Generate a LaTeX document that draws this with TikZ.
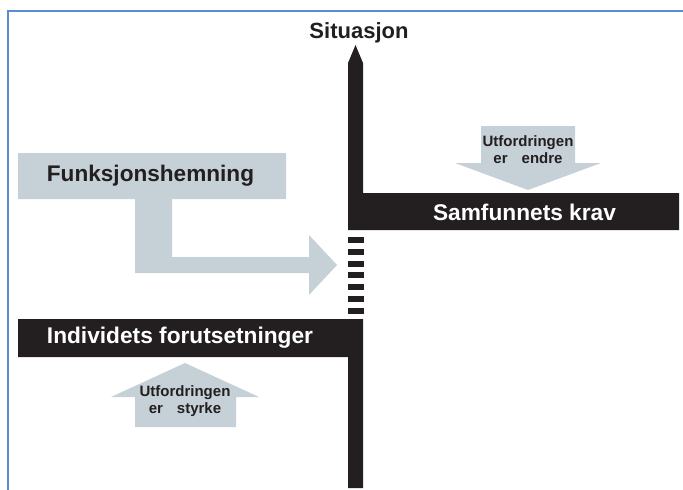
\documentclass[tikz,border=0pt]{standalone}
\usepackage{fontspec}
\setmainfont{Liberation Sans}
\definecolor{barblack}{HTML}{231F20}
\definecolor{paleblue}{HTML}{C5D0D7}
\definecolor{frameblue}{HTML}{5B8BD0}
\tikzset{
  barfill/.style={fill=barblack, draw=none},
  palefill/.style={fill=paleblue, draw=none},
  bigdark/.style={font=\fontsize{22.6}{26}\selectfont\bfseries, text=barblack, inner sep=0pt},
  bigwhite/.style={font=\fontsize{22.7}{26}\selectfont\bfseries, text=white, inner sep=0pt},
  smalltxt/.style={font=\fontsize{15}{17}\selectfont\bfseries, text=barblack, align=center, inner sep=0pt},
}
\begin{document}
\begin{tikzpicture}[x=1pt,y=-1pt]
\useasboundingbox (0,0) rectangle (683,490);
% frame
\draw[frameblue, line width=1.5pt] (683,11) -- (8,11) -- (8,490);
% vertical bar with arrow tip and Samfunnets krav bar
\fill[barblack] (348,230) -- (348,63) -- (355.5,45) -- (363,63) -- (363,193) -- (679,193) -- (679,230) -- cycle;
% dashes
\foreach \k in {0,...,6} {
  \fill[barblack] (348,{237+11.8*\k}) rectangle (364,{243+11.8*\k});
}
% Individets bar with lower vertical
\fill[barblack] (18,319) -- (363,319) -- (363,488) -- (348,488) -- (348,357) -- (18,357) -- cycle;
% Funksjonshemning bent arrow
\fill[paleblue] (18,153) -- (286,153) -- (286,199) -- (172,199) -- (172,257) -- (309,257) -- (309,235) -- (337,265) -- (309,295) -- (309,273) -- (135,273) -- (135,199) -- (18,199) -- cycle;
% up arrow
\fill[paleblue] (135,427) -- (135,397) -- (111,397) -- (185,363) -- (259,397) -- (236,397) -- (236,427) -- cycle;
% down arrow
\fill[paleblue] (481,126) -- (575,126) -- (575,163) -- (601,163) -- (528,190) -- (455,163) -- (481,163) -- cycle;
% texts
\node[bigdark, font=\fontsize{22}{26}\selectfont\bfseries] (sit) at (359,33) {Situasjon};
\node[bigdark] (funk) at (150.5,176) {Funksjonshemning};
\node[bigwhite] (samf) at (524.5,212) {Samfunnets krav};
\node[bigwhite] (indiv) at (180,338) {Individets forutsetninger};
\node[smalltxt] (styrke) at (185,401) {Utfordringen\\er\hspace{14pt}styrke};
\node[smalltxt] (endre) at (528,150) {Utfordringen\\er\hspace{14pt}endre};
\end{tikzpicture}
\end{document}
